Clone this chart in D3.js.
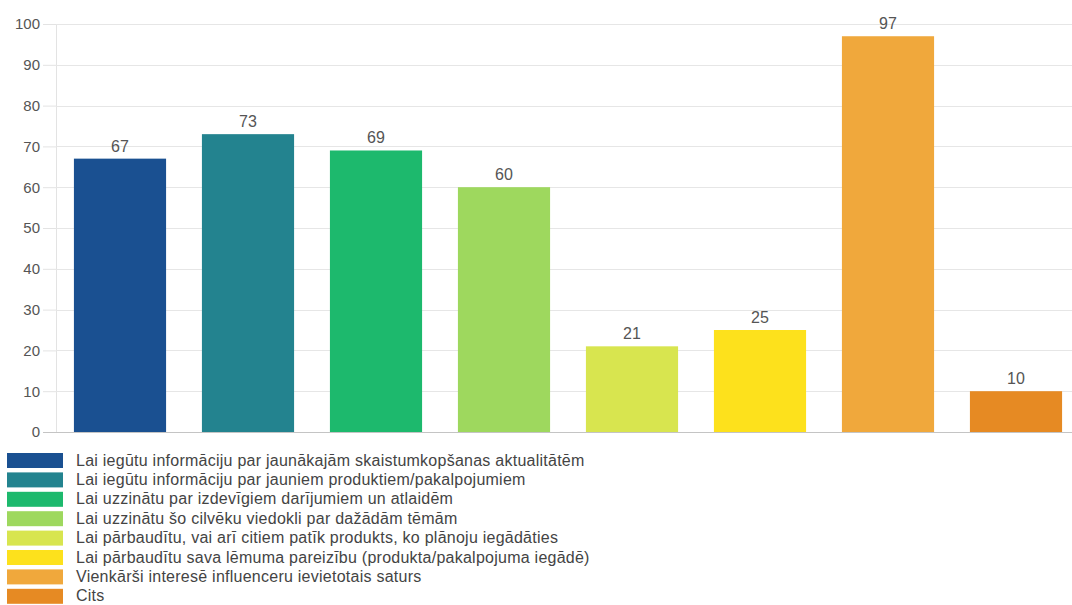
<!DOCTYPE html>
<html>
<head>
<meta charset="utf-8">
<script src="https://cdn.jsdelivr.net/npm/d3@7"></script>
<style>
  html, body { margin: 0; padding: 0; background: #fff; }
  svg { display: block; font-family: "Liberation Sans", Arial, sans-serif; }
</style>
</head>
<body>
<svg id="chart" width="1072" height="605"></svg>
<script>
// Reasons for following influencers (counts of respondents)
const categories = [
  "Lai iegūtu informāciju par jaunākajām skaistumkopšanas aktualitātēm",
  "Lai iegūtu informāciju par jauniem produktiem/pakalpojumiem",
  "Lai uzzinātu par izdevīgiem darījumiem un atlaidēm",
  "Lai uzzinātu šo cilvēku viedokli par dažādām tēmām",
  "Lai pārbaudītu, vai arī citiem patīk produkts, ko plānoju iegādāties",
  "Lai pārbaudītu sava lēmuma pareizību (produkta/pakalpojuma iegādē)",
  "Vienkārši interesē influenceru ievietotais saturs",
  "Cits"
];
const values = [67, 73, 69, 60, 21, 25, 97, 10];
const colors = ["#1a5091", "#23838f", "#1db96d", "#9ed85e", "#d8e54f", "#fde11c", "#f0a83c", "#e68a23"];
const yTicks = [0, 10, 20, 30, 40, 50, 60, 70, 80, 90, 100];

const svg = d3.select("#chart");
const W = 1072;
const plot = { left: 56, right: 1080, top: 24, bottom: 432 };

const x = d3.scaleBand()
  .domain(d3.range(categories.length))
  .range([plot.left, plot.right])
  .paddingInner(0.28)
  .paddingOuter(0.14);

const y = d3.scaleLinear().domain([0, 100]).range([plot.bottom, plot.top]);

// y axis with ticks
const yAxis = d3.axisLeft(y).tickValues(yTicks).tickSize(13).tickPadding(3);
const gy = svg.append("g").attr("transform", `translate(${plot.left},0)`).call(yAxis);
gy.select(".domain").attr("stroke", "#e3e3e3");
gy.selectAll(".tick line").attr("stroke", "#e3e3e3");
gy.selectAll(".tick text")
  .attr("fill", "#555")
  .style("font-size", "15px")
  .style("font-family", "'Liberation Sans', Arial, sans-serif");

// horizontal grid
svg.append("g")
  .selectAll("line")
  .data(yTicks.filter(t => t > 0))
  .join("line")
  .attr("x1", plot.left).attr("x2", W)
  .attr("y1", d => Math.round(y(d)) + 0.5).attr("y2", d => Math.round(y(d)) + 0.5)
  .attr("stroke", "#e6e6e6");

// bars
svg.append("g")
  .selectAll("rect")
  .data(values)
  .join("rect")
  .attr("x", (d, i) => x(i))
  .attr("y", d => y(d))
  .attr("width", x.bandwidth())
  .attr("height", d => y(0) - y(d))
  .attr("fill", (d, i) => colors[i]);

// baseline
svg.append("line")
  .attr("x1", plot.left - 13).attr("x2", W)
  .attr("y1", plot.bottom + 0.5).attr("y2", plot.bottom + 0.5)
  .attr("stroke", "#c4c4c4");

// value labels
svg.append("g")
  .selectAll("text")
  .data(values)
  .join("text")
  .attr("x", (d, i) => x(i) + x.bandwidth() / 2)
  .attr("y", d => y(d) - 7)
  .attr("text-anchor", "middle")
  .attr("fill", "#555")
  .style("font-size", "16px")
  .text(d => d);

// legend
const legend = svg.append("g").attr("transform", "translate(7,453)");
const rowH = 19.4;
const items = legend.selectAll("g")
  .data(categories)
  .join("g")
  .attr("transform", (d, i) => `translate(0,${i * rowH})`);
items.append("rect")
  .attr("width", 56).attr("height", 15)
  .attr("fill", (d, i) => colors[i]);
items.append("text")
  .attr("x", 69).attr("y", 12.5)
  .attr("fill", "#444")
  .style("font-size", "16px")
  .style("letter-spacing", "0.25px")
  .text(d => d);
</script>
</body>
</html>
